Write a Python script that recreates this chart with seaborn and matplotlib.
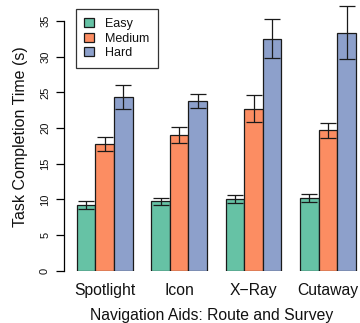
import numpy as np
import pandas as pd
import seaborn as sns
import matplotlib.pyplot as plt

aids = ["Spotlight", "Icon", "X\u2212Ray", "Cutaway"]
levels = ["Easy", "Medium", "Hard"]
easy = [9.2, 9.75, 10.05, 10.2]
medium = [17.8, 19.0, 22.7, 19.7]
hard = [24.35, 23.8, 32.5, 33.35]
easy_err = [0.6, 0.5, 0.55, 0.6]
medium_err = [1.0, 1.1, 1.9, 1.05]
hard_err = [1.65, 0.95, 2.75, 3.7]
colors = ["#66C2A5", "#FC8D62", "#8DA0CB"]

df = pd.DataFrame({
    "aid": aids * 3,
    "level": np.repeat(levels, len(aids)),
    "time": easy + medium + hard,
})
errs = [easy_err, medium_err, hard_err]

sns.set_style("white")
plt.rcParams["font.family"] = ["Liberation Sans", "DejaVu Sans"]
plt.rcParams["text.color"] = "#111111"
plt.rcParams["axes.labelcolor"] = "#111111"
plt.rcParams["xtick.color"] = "#111111"
plt.rcParams["ytick.color"] = "#111111"

fig = plt.figure(figsize=(3.6, 3.23), dpi=100)
ax = fig.add_axes([64 / 360, 52.3 / 323, 296 / 360, 267.7 / 323])

sns.barplot(data=df, x="aid", y="time", hue="level", order=aids, hue_order=levels,
            palette=colors, width=0.75, errorbar=None, edgecolor="#1a1a1a",
            linewidth=0.9, saturation=1, ax=ax)

for cont, err in zip(ax.containers, errs):
    xs = [p.get_x() + p.get_width() / 2 for p in cont.patches]
    ys = [p.get_height() for p in cont.patches]
    ax.errorbar(xs, ys, yerr=err, fmt="none", ecolor="#1a1a1a", elinewidth=0.9,
                capsize=5.5, capthick=0.9)

ax.set_xlim(-0.547, 3.43)
ax.set_ylim(0, 37.52)
ax.set_yticks(range(0, 36, 5))
for s in ["top", "right", "bottom"]:
    ax.spines[s].set_visible(False)
ax.spines["left"].set_bounds(0, 35)
ax.spines["left"].set_color("black")
ax.spines["left"].set_linewidth(0.9)
ax.tick_params(axis="y", left=True, length=6, width=0.9, pad=4, labelsize=8,
               labelrotation=90, color="black")
for lab in ax.get_yticklabels():
    lab.set_verticalalignment("center")
ax.tick_params(axis="x", length=0, pad=8.5, labelsize=11.3)

ax.set_xlabel("Navigation Aids: Route and Survey", fontsize=11.3, labelpad=7.5)
ax.set_ylabel("Task Completion Time (s)", fontsize=11.5, labelpad=9)

leg = ax.legend(ax.containers, levels, loc="upper left",
                bbox_to_anchor=(0.0395, 0.9765), borderaxespad=0,
                fontsize=9, handlelength=0.75, handleheight=0.75,
                handletextpad=0.9, labelspacing=0.2, borderpad=0.7,
                fancybox=False, framealpha=1, edgecolor="#333333")
leg.get_frame().set_linewidth(0.9)

fig.savefig("out.png", dpi=100)
